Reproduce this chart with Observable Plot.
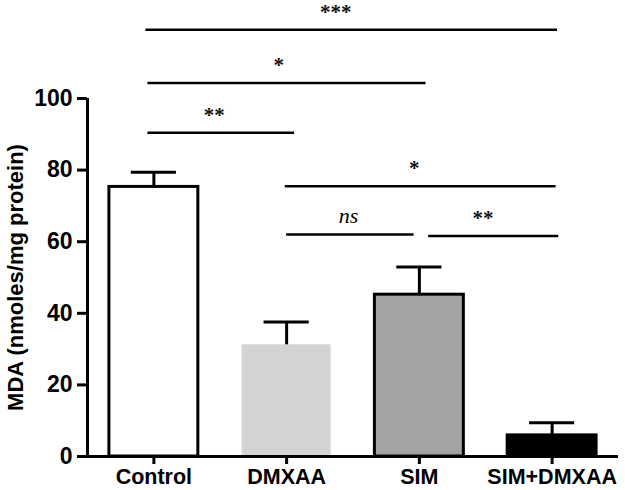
<!DOCTYPE html>
<html>
<head>
<meta charset="utf-8">
<script src="https://cdn.jsdelivr.net/npm/d3@7"></script>
<script src="https://cdn.jsdelivr.net/npm/@observablehq/plot@0.6"></script>
<style>
  html, body { margin: 0; padding: 0; background: white; }
</style>
</head>
<body>
<div id="chart"></div>
<script>
// ---- data ----
const categories = ["Control", "DMXAA", "SIM", "SIM+DMXAA"];
const means      = [75.3, 31.2, 45.2, 5.9];
const sems       = [4.1, 6.4, 7.7, 3.5];
const yTicks     = [0, 20, 40, 60, 80, 100];
const yTitle     = "MDA (nmoles/mg protein)";

// significance brackets: ends and label position in category-index units, level in y units
const compX1     = [-0.06, -0.045, -0.045, 0.99, 1.0, 2.07];
const compX2     = [3.04, 2.05, 1.06, 3.03, 1.96, 3.05];
const compLabelX = [1.37, 0.94, 0.455, 1.962, 1.466, 2.48];
const compLevel  = [119.2, 104.3, 90.4, 75.5, 62.0, 61.6];
const compLabel  = ["***", "*", "**", "*", "ns", "**"];

const barColors  = ["#ffffff", "#d3d3d3", "#a3a3a3", "#000000"];

// ---- build tables ----
const bars = categories.map((c, i) => ({i, name: c, mean: means[i], top: means[i] + sems[i]}));
const comps = compLabel.map((l, k) => ({x1: compX1[k], x2: compX2[k], lx: compLabelX[k], y: compLevel[k], label: l}));
const half = 0.335, cap = 0.17;

const chart = Plot.plot({
  width: 625,
  height: 490,
  marginLeft: 87,
  marginRight: 7,
  marginTop: 98,
  marginBottom: 34,
  style: {fontFamily: "'Liberation Sans', Arial, sans-serif", fontWeight: "bold", color: "black", background: "white", overflow: "visible"},
  x: {domain: [-0.5, 3.5], axis: null},
  y: {domain: [0, 100], axis: null},
  color: {domain: categories, range: barColors},
  marks: [
    // bars with outline
    Plot.rectY(bars.filter(d => d.name !== "DMXAA"), {x1: d => d.i - half, x2: d => d.i + half, y: "mean", fill: "name", stroke: "black", strokeWidth: 3}),
    // bar without outline
    Plot.rectY(bars.filter(d => d.name === "DMXAA"), {x1: d => d.i - half, x2: d => d.i + half, y: "mean", fill: "name"}),
    // error bars
    Plot.ruleX(bars, {x: "i", y1: "mean", y2: "top", stroke: "black", strokeWidth: 3}),
    Plot.ruleY(bars, {y: "top", x1: d => d.i - cap, x2: d => d.i + cap, stroke: "black", strokeWidth: 3}),
    // axes
    Plot.axisY({ticks: yTicks, tickSize: 10, tickPadding: 5, fontSize: 23, strokeWidth: 3, label: null}),
    Plot.axisY({ticks: [], fontSize: 22, label: yTitle, labelAnchor: "center", labelArrow: "none", labelOffset: 80}),
    Plot.axisX({ticks: [0, 1, 2, 3], tickFormat: i => categories[i], tickSize: 8, tickPadding: 4, fontSize: 21.5, strokeWidth: 3, label: null}),
    Plot.ruleX([-0.5], {y1: 0, y2: 100, stroke: "black", strokeWidth: 3}),
    Plot.ruleY([0], {x1: -0.5, x2: 3.5, stroke: "black", strokeWidth: 3}),
    // significance brackets
    Plot.ruleY(comps, {y: "y", x1: "x1", x2: "x2", stroke: "black", strokeWidth: 2.5}),
    Plot.text(comps.filter(d => d.label !== "ns"), {x: "lx", y: "y", text: "label", dy: -11,
      lineAnchor: "bottom", fontFamily: "'Liberation Serif', 'Times New Roman', serif", fontWeight: "bold", fontSize: 21, fill: "#111"}),
    Plot.text(comps.filter(d => d.label === "ns"), {x: "lx", y: "y", text: "label", dy: -12,
      lineAnchor: "bottom", fontFamily: "'Liberation Serif', 'Times New Roman', serif", fontWeight: "normal", fontStyle: "italic", fontSize: 22, fill: "black"})
  ]
});
document.getElementById("chart").appendChild(chart);
</script>
</body>
</html>
